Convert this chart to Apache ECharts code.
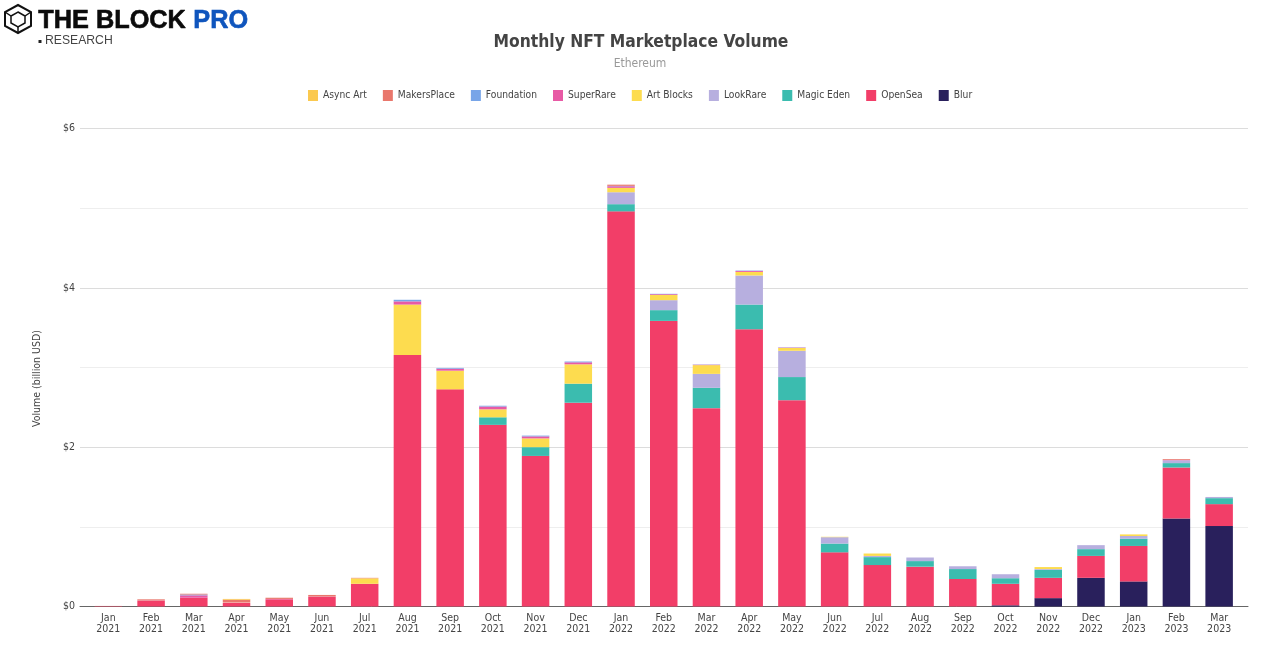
<!DOCTYPE html>
<html>
<head>
<meta charset="utf-8">
<style>
  html, body { margin: 0; padding: 0; background: #fff; }
  #chart { width: 1280px; height: 665px; }
</style>
<script src="https://cdn.jsdelivr.net/npm/echarts@6/dist/echarts.min.js"></script>
</head>
<body>
<div id="chart"></div>
<script>
const months = [
  "Jan\n2021", "Feb\n2021", "Mar\n2021", "Apr\n2021", "May\n2021", "Jun\n2021", "Jul\n2021", "Aug\n2021", "Sep\n2021",
  "Oct\n2021", "Nov\n2021", "Dec\n2021", "Jan\n2022", "Feb\n2022", "Mar\n2022", "Apr\n2022", "May\n2022", "Jun\n2022",
  "Jul\n2022", "Aug\n2022", "Sep\n2022", "Oct\n2022", "Nov\n2022", "Dec\n2022", "Jan\n2023", "Feb\n2023", "Mar\n2023"
];

// stacked bottom to top
const blur = [0, 0, 0, 0, 0, 0, 0, 0, 0, 0, 0, 0, 0, 0, 0, 0, 0, 0, 0, 0, 0, 0.015, 0.105, 0.36, 0.315, 1.105, 1.01];
const openSea = [0.005, 0.07, 0.11, 0.045, 0.09, 0.12, 0.285, 3.157, 2.726, 2.28, 1.89, 2.558, 4.96, 3.585, 2.49, 3.48, 2.59, 0.68, 0.52, 0.5, 0.345, 0.27, 0.255, 0.275, 0.445, 0.64, 0.275];
const magicEden = [0, 0, 0, 0, 0, 0, 0, 0, 0, 0.095, 0.11, 0.239, 0.09, 0.135, 0.255, 0.31, 0.29, 0.11, 0.1, 0.07, 0.125, 0.07, 0.1, 0.085, 0.09, 0.055, 0.075];
const lookRare = [0, 0, 0, 0, 0, 0, 0, 0, 0, 0, 0, 0, 0.15, 0.125, 0.175, 0.365, 0.33, 0.08, 0.015, 0.045, 0.035, 0.05, 0.01, 0.05, 0.035, 0.035, 0.015];
const artBlocks = [0, 0, 0, 0.005, 0, 0, 0.07, 0.633, 0.234, 0.1, 0.11, 0.243, 0.055, 0.065, 0.11, 0.045, 0.035, 0.005, 0.03, 0, 0, 0, 0.025, 0, 0.02, 0, 0];
const superRare = [0, 0.005, 0.03, 0.005, 0.005, 0.005, 0.003, 0.04, 0.025, 0.035, 0.025, 0.025, 0.02, 0.01, 0.005, 0.012, 0.005, 0, 0, 0, 0, 0, 0, 0, 0, 0.005, 0];
const foundation = [0, 0, 0.01, 0, 0, 0, 0, 0.02, 0.01, 0.01, 0.01, 0.01, 0.005, 0.005, 0.003, 0.005, 0.003, 0, 0, 0, 0, 0, 0, 0, 0, 0, 0];
const makersPlace = [0.002, 0.015, 0.01, 0.03, 0.015, 0.02, 0.002, 0, 0, 0, 0, 0, 0.015, 0, 0, 0, 0, 0, 0, 0, 0, 0, 0, 0, 0, 0.01, 0];
const asyncArt = [0, 0, 0, 0.01, 0, 0, 0, 0, 0, 0, 0, 0, 0, 0, 0, 0, 0, 0, 0, 0, 0, 0, 0, 0, 0, 0, 0];

const seriesDefs = [
  ["Async Art", asyncArt, "#fbc94f"],
  ["MakersPlace", makersPlace, "#e9776c"],
  ["Foundation", foundation, "#78a5e8"],
  ["SuperRare", superRare, "#e85aa5"],
  ["Art Blocks", artBlocks, "#fddc4f"],
  ["LookRare", lookRare, "#b7afdf"],
  ["Magic Eden", magicEden, "#3bbcaf"],
  ["OpenSea", openSea, "#f23e68"],
  ["Blur", blur, "#29205c"]
];

const font = "DejaVu Sans Condensed";
const chart = echarts.init(document.getElementById("chart"), null, { renderer: "canvas" });

const bars = seriesDefs.map(([name, data, color]) => ({
  name,
  type: "bar",
  stack: "volume",
  data,
  barWidth: 27.5,
  xAxisIndex: 0,
  yAxisIndex: 0,
  itemStyle: { color },
  z: 3
})).reverse();

chart.setOption({
  animation: false,
  backgroundColor: "#fff",
  title: [
    {
      text: "Monthly NFT Marketplace Volume",
      left: 636, top: 29, textAlign: "center",
      textStyle: { fontFamily: font, fontWeight: "bold", fontSize: 17.3, color: "#444" }
    },
    {
      text: "Ethereum",
      left: 635, top: 53, textAlign: "center",
      textStyle: { fontFamily: font, fontWeight: "normal", fontSize: 12, color: "#999" }
    }
  ],
  legend: {
    left: 303, top: 85,
    itemWidth: 10, itemHeight: 11, itemGap: 16,
    icon: "rect",
    data: seriesDefs.map(d => d[0]),
    textStyle: { fontFamily: font, fontSize: 10.2, color: "#444" }
  },
  // grid 0 holds the bars, grid 1 is only there for the wider gridlines and baseline
  grid: [
    { left: 87, right: 39.5, top: 128.5, bottom: 58.5 },
    { left: 80, right: 32, top: 128.5, bottom: 58.5 }
  ],
  xAxis: [
    {
      type: "category", gridIndex: 0, data: months,
      axisLine: { show: false }, axisTick: { show: false },
      axisLabel: { interval: 0, fontFamily: font, fontSize: 10.5, lineHeight: 11, color: "#444", margin: 6 }
    },
    {
      type: "category", gridIndex: 1, data: months,
      axisLine: { show: true, lineStyle: { color: "#666", width: 1 } },
      axisTick: { show: false }, axisLabel: { show: false }
    }
  ],
  yAxis: [
    { type: "value", gridIndex: 0, min: 0, max: 6, show: false },
    {
      type: "value", gridIndex: 1, min: 0, max: 6, interval: 1,
      name: "Volume (billion USD)",
      nameLocation: "middle", nameGap: 37,
      nameTextStyle: { fontFamily: font, fontSize: 10.5, color: "#444", padding: [0, 22, 0, 0] },
      axisLine: { show: false }, axisTick: { show: false },
      axisLabel: {
        fontFamily: font, fontSize: 10.5, color: "#444", margin: 5,
        formatter: v => (v % 2 === 0 ? "$" + v : "")
      },
      splitLine: { lineStyle: { color: ["#dcdcdc", "#eeeeee"], width: 1 } }
    }
  ],
  series: [
    ...bars,
    { type: "bar", xAxisIndex: 1, yAxisIndex: 1, data: [], silent: true }
  ],
  graphic: [
    // logo cube
    { type: "polygon", shape: { points: [[18, 5], [31, 12], [31, 26], [18, 33], [5, 26], [5, 12]] }, style: { fill: "none", stroke: "#111", lineWidth: 2 } },
    { type: "polygon", shape: { points: [[18, 12], [25, 16], [25, 23], [18, 27], [11, 23], [11, 16]] }, style: { fill: "none", stroke: "#111", lineWidth: 1.5 } },
    { type: "line", shape: { x1: 5, y1: 12, x2: 11, y2: 16 }, style: { stroke: "#111", lineWidth: 1.5 } },
    { type: "line", shape: { x1: 31, y1: 12, x2: 25, y2: 16 }, style: { stroke: "#111", lineWidth: 1.5 } },
    { type: "line", shape: { x1: 18, y1: 33, x2: 18, y2: 27 }, style: { stroke: "#111", lineWidth: 1.5 } },
    { type: "text", left: 38, top: 8, style: { text: "THE BLOCK", fontFamily: "Liberation Sans", fontWeight: "bold", fontSize: 25.3, fill: "#0b0b0b", stroke: "#0b0b0b", lineWidth: 0.6 } },
    { type: "text", left: 193, top: 8, style: { text: "PRO", fontFamily: "Liberation Sans", fontWeight: "bold", fontSize: 25.3, fill: "#0f55bd", stroke: "#0f55bd", lineWidth: 0.6 } },
    { type: "rect", shape: { x: 38.5, y: 40, width: 3, height: 3 }, style: { fill: "#222" } },
    { type: "text", left: 45, top: 35, style: { text: "RESEARCH", fontFamily: "Liberation Sans", fontSize: 12.2, fill: "#444" } }
  ]
});
</script>
</body>
</html>
